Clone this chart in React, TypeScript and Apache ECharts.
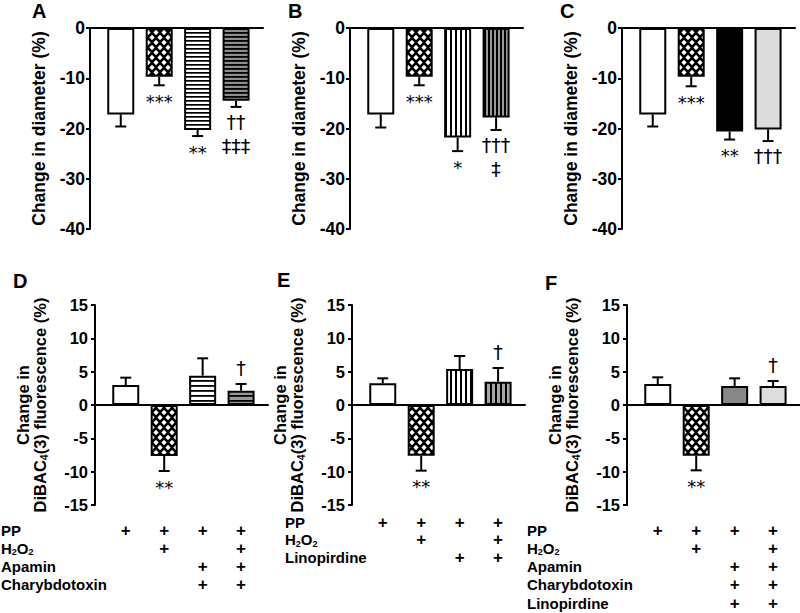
import React, { useEffect, useRef } from "react";
import * as echarts from "echarts";

// ---------- data ----------
const barPositions = [1, 2, 3, 4];

const diameterTicks = [0, -10, -20, -30, -40];
const fluorescenceTicks = [15, 10, 5, 0, -5, -10, -15];

const diameterA = [-17.2, -9.7, -20.3, -14.5];
const diameterAErr = [2.4, 1.7, 1.2, 1.2];
const diameterASig = ["", "***", "**", "††\n‡‡‡"];

const diameterB = [-17.2, -9.7, -21.8, -17.8];
const diameterBErr = [2.6, 1.7, 2.7, 2.5];
const diameterBSig = ["", "***", "*", "†††\n‡"];

const diameterC = [-17.2, -9.7, -20.6, -20.2];
const diameterCErr = [2.4, 1.9, 1.6, 2.3];
const diameterCSig = ["", "***", "**", "†††"];

const fluorD = [3.0, -7.65, 4.4, 2.15];
const fluorDErr = [1.1, 2.25, 2.6, 1.0];
const fluorDSig = ["", "**", "", "†"];

const fluorE = [3.25, -7.6, 5.4, 3.5];
const fluorEErr = [0.75, 2.25, 1.95, 2.05];
const fluorESig = ["", "**", "", "†"];

const fluorF = [3.15, -7.6, 2.85, 2.85];
const fluorFErr = [1.0, 2.2, 1.15, 0.75];
const fluorFSig = ["", "**", "", "†"];

const rowsD = ["PP", "H2O2", "Apamin", "Charybdotoxin"];
const plusD = [
  [1, 1, 1, 1],
  [0, 1, 0, 1],
  [0, 0, 1, 1],
  [0, 0, 1, 1],
];
const rowsE = ["PP", "H2O2", "Linopirdine"];
const plusE = [
  [1, 1, 1, 1],
  [0, 1, 0, 1],
  [0, 0, 1, 1],
];
const rowsF = ["PP", "H2O2", "Apamin", "Charybdotoxin", "Linopirdine"];
const plusF = [
  [1, 1, 1, 1],
  [0, 1, 0, 1],
  [0, 0, 1, 1],
  [0, 0, 1, 1],
  [0, 0, 1, 1],
];

const diameterTitle = "Change in diameter (%)";
const fluorTitle = "{a|Change in}\n{a|DiBAC}{s|4}{a|(3) fluorescence (%)}";

// ---------- styling helpers ----------
const SANS = '"Liberation Sans", Arial, sans-serif';
const SIGFONT = '"DejaVu Sans", sans-serif';

function stripeCanvas(period: number, line: number, bg: string, fg: string, vertical: boolean) {
  const c = document.createElement("canvas");
  c.width = vertical ? period : 4;
  c.height = vertical ? 4 : period;
  const ctx = c.getContext("2d")!;
  ctx.fillStyle = bg;
  ctx.fillRect(0, 0, c.width, c.height);
  ctx.fillStyle = fg;
  if (vertical) ctx.fillRect(0, 0, line, c.height);
  else ctx.fillRect(0, 0, c.width, line);
  return { image: c, repeat: "repeat" };
}

function crossPattern() {
  const c = document.createElement("canvas");
  c.width = 8;
  c.height = 10;
  const ctx = c.getContext("2d")!;
  ctx.fillStyle = "#000";
  ctx.fillRect(0, 0, 8, 10);
  ctx.fillStyle = "#fff";
  const d = (cx: number, cy: number) => {
    ctx.beginPath();
    ctx.moveTo(cx, cy - 2.7);
    ctx.lineTo(cx + 2.6, cy);
    ctx.lineTo(cx, cy + 2.7);
    ctx.lineTo(cx - 2.6, cy);
    ctx.closePath();
    ctx.fill();
  };
  d(4, 2.5);
  d(0, 7.5);
  d(8, 7.5);
  return { image: c, repeat: "repeat" };
}

function richLabel(name: string) {
  if (name === "H2O2") return "{m|H}{s|2}{m|O}{s|2}";
  return "{m|" + name + "}";
}

export default function App() {
  const ref = useRef<HTMLDivElement>(null);

  useEffect(() => {
    if (!ref.current) return;
    const chart = echarts.init(ref.current, undefined, { renderer: "svg" });

    const cross = crossPattern();
    const panels = [
      {
        values: diameterA, errs: diameterAErr, sig: diameterASig, ticks: diameterTicks, title: diameterTitle,
        fills: ["#fff", cross, stripeCanvas(4, 1.7, "#fff", "#000", false), stripeCanvas(4, 1.8, "#8c8c8c", "#000", false)],
        grid: { left: 90, top: 28, height: 201 }, letter: "A", lx: 32, ly: 11, top: true,
      },
      {
        values: diameterB, errs: diameterBErr, sig: diameterBSig, ticks: diameterTicks, title: diameterTitle,
        fills: ["#fff", cross, stripeCanvas(5, 2, "#fff", "#000", true), stripeCanvas(4, 2, "#999", "#000", true)],
        grid: { left: 350, top: 28, height: 201 }, letter: "B", lx: 288, ly: 11, top: true,
      },
      {
        values: diameterC, errs: diameterCErr, sig: diameterCSig, ticks: diameterTicks, title: diameterTitle,
        fills: ["#fff", cross, "#000", "#dcdcdc"],
        grid: { left: 622, top: 28, height: 201 }, letter: "C", lx: 560, ly: 11, top: true,
      },
      {
        values: fluorD, errs: fluorDErr, sig: fluorDSig, ticks: fluorescenceTicks, title: fluorTitle,
        fills: ["#fff", cross, stripeCanvas(5, 1.8, "#fff", "#000", false), stripeCanvas(5, 1.8, "#999", "#000", false)],
        grid: { left: 95, top: 305, height: 200 }, letter: "D", lx: 13, ly: 281, top: false,
        rows: rowsD, plus: plusD, table: { labelX: 1, offset: 25, step: 18.3 },
      },
      {
        values: fluorE, errs: fluorEErr, sig: fluorESig, ticks: fluorescenceTicks, title: fluorTitle,
        fills: ["#fff", cross, stripeCanvas(5, 2, "#fff", "#000", true), stripeCanvas(5, 2, "#a6a6a6", "#000", true)],
        grid: { left: 352, top: 305, height: 200 }, letter: "E", lx: 277, ly: 280, top: false,
        rows: rowsE, plus: plusE, table: { labelX: 285, offset: 17, step: 17.5 },
      },
      {
        values: fluorF, errs: fluorFErr, sig: fluorFSig, ticks: fluorescenceTicks, title: fluorTitle,
        fills: ["#fff", cross, "#888888", "#dddddd"],
        grid: { left: 627, top: 305, height: 200 }, letter: "F", lx: 545, ly: 283, top: false,
        rows: rowsF, plus: plusF, table: { labelX: 527, offset: 25, step: 18.3 },
      },
    ];

    const grid = panels.map((p) => ({ left: p.grid.left, top: p.grid.top, width: 173, height: p.grid.height }));

    const xAxis = panels.map((p, i) => ({
      gridIndex: i,
      type: "value",
      min: 0.2,
      max: 4.7,
      axisLine: { show: true, onZero: true, lineStyle: { color: "#000", width: 2 } },
      axisTick: { show: false },
      axisLabel: { show: false },
      splitLine: { show: false },
    }));

    const yAxis = panels.map((p, i) => {
      const t = p.ticks;
      return {
        gridIndex: i,
        type: "value",
        min: Math.min(...t),
        max: Math.max(...t),
        interval: Math.abs(t[0] - t[1]),
        axisLine: { show: true, onZero: false, lineStyle: { color: "#000", width: 2 } },
        axisTick: { show: true, length: 4, lineStyle: { color: "#000", width: 2 } },
        axisLabel: {
          color: "#000",
          fontWeight: "bold",
          fontFamily: SANS,
          fontSize: p.top ? 17.5 : 16.5,
          margin: p.top ? 5 : 7,
        },
        splitLine: { show: false },
        name: p.title,
        nameLocation: "middle",
        nameRotate: 90,
        nameGap: p.top ? 42 : 46,
        nameTextStyle: {
          color: "#000",
          fontWeight: "bold",
          fontFamily: SANS,
          fontSize: p.top ? 17.5 : 16.5,
          lineHeight: 17.5,
          rich: {
            a: { color: "#000", fontWeight: "bold", fontFamily: SANS, fontSize: 16.5, lineHeight: 17.5 },
            s: { color: "#000", fontWeight: "bold", fontFamily: SANS, fontSize: 10.5, lineHeight: 6, verticalAlign: "bottom" },
          },
        },
      };
    });

    const series: any[] = [];
    const graphic: any[] = [];

    panels.forEach((p, i) => {
      series.push({
        type: "bar",
        xAxisIndex: i,
        yAxisIndex: i,
        barWidth: 27,
        z: 2,
        itemStyle: { borderColor: "#000", borderWidth: 2 },
        data: p.values.map((v, j) => ({ value: [barPositions[j], v], itemStyle: { color: p.fills[j] } })),
      });
      series.push({
        type: "custom",
        xAxisIndex: i,
        yAxisIndex: i,
        z: 3,
        data: p.values.map((v, j) => [barPositions[j], v, p.errs[j]]),
        renderItem: (params: any, api: any) => {
          const x = api.value(0);
          const y = api.value(1);
          const e = api.value(2);
          const end = y >= 0 ? y + e : y - e;
          const p0 = api.coord([x, y]);
          const p1 = api.coord([x, end]);
          return {
            type: "group",
            children: [
              { type: "line", shape: { x1: p0[0], y1: p0[1], x2: p1[0], y2: p1[1] }, style: { stroke: "#000", lineWidth: 2 } },
              { type: "line", shape: { x1: p1[0] - 5.5, y1: p1[1], x2: p1[0] + 5.5, y2: p1[1] }, style: { stroke: "#000", lineWidth: 2 } },
            ],
          };
        },
      });
      series.push({
        type: "custom",
        xAxisIndex: i,
        yAxisIndex: i,
        z: 4,
        data: p.values.map((v, j) => [barPositions[j], v >= 0 ? v + p.errs[j] : v - p.errs[j]]),
        renderItem: (params: any, api: any) => {
          const txt = p.sig[params.dataIndex];
          if (!txt) return null;
          const x = api.value(0);
          const end = api.value(1);
          const pt = api.coord([x, end]);
          const below = end < 0;
          const isStar = txt.indexOf("*") >= 0;
          return {
            type: "text",
            x: pt[0],
            y: pt[1] + (below ? (isStar ? 4 : 3) : -4),
            style: {
              text: txt,
              fill: "#000",
              font: (isStar ? "18px " : "19px ") + SIGFONT,
              lineHeight: 24,
              align: "center",
              verticalAlign: below ? "top" : "bottom",
              textAlign: "center",
              textVerticalAlign: below ? "top" : "bottom",
            },
          };
        },
      });

      graphic.push({
        type: "text",
        x: p.lx,
        y: p.ly,
        style: { text: p.letter, fill: "#000", font: "bold 20px " + SANS, verticalAlign: "middle", textVerticalAlign: "middle" },
      });

      if (p.rows && p.plus && p.table) {
        const tbl = p.table;
        const plusData: number[][] = [];
        p.plus.forEach((row, r) => row.forEach((on, j) => { if (on) plusData.push([barPositions[j], r]); }));
        series.push({
          type: "custom",
          xAxisIndex: i,
          yAxisIndex: i,
          z: 4,
          clip: false,
          data: plusData,
          renderItem: (params: any, api: any) => {
            const px = api.coord([api.value(0), 0])[0];
            const cs = params.coordSys;
            const py = cs.y + cs.height + tbl.offset + api.value(1) * tbl.step;
            return {
              type: "text",
              x: px,
              y: py,
              style: {
                text: "+", fill: "#000", font: "bold 17px " + SANS,
                align: "center", verticalAlign: "middle", textAlign: "center", textVerticalAlign: "middle",
              },
            };
          },
        });
        const bottom = p.grid.top + p.grid.height;
        p.rows.forEach((name, r) => {
          graphic.push({
            type: "text",
            x: tbl.labelX,
            y: bottom + tbl.offset + r * tbl.step,
            style: {
              text: richLabel(name),
              fill: "#000",
              verticalAlign: "middle",
              textVerticalAlign: "middle",
              rich: {
                m: { fill: "#000", color: "#000", font: "bold 15px " + SANS, fontSize: 15, fontWeight: "bold", fontFamily: SANS, lineHeight: 17 },
                s: { fill: "#000", color: "#000", font: "bold 9px " + SANS, fontSize: 9, fontWeight: "bold", fontFamily: SANS, lineHeight: 6, verticalAlign: "bottom" },
              },
            },
          });
        });
      }
    });

    chart.setOption({
      animation: false,
      backgroundColor: "#fff",
      grid,
      xAxis,
      yAxis,
      series,
      graphic,
    });

    return () => chart.dispose();
  }, []);

  return <div ref={ref} style={{ position: "absolute", left: 0, top: 0, width: 800, height: 613 }} />;
}
